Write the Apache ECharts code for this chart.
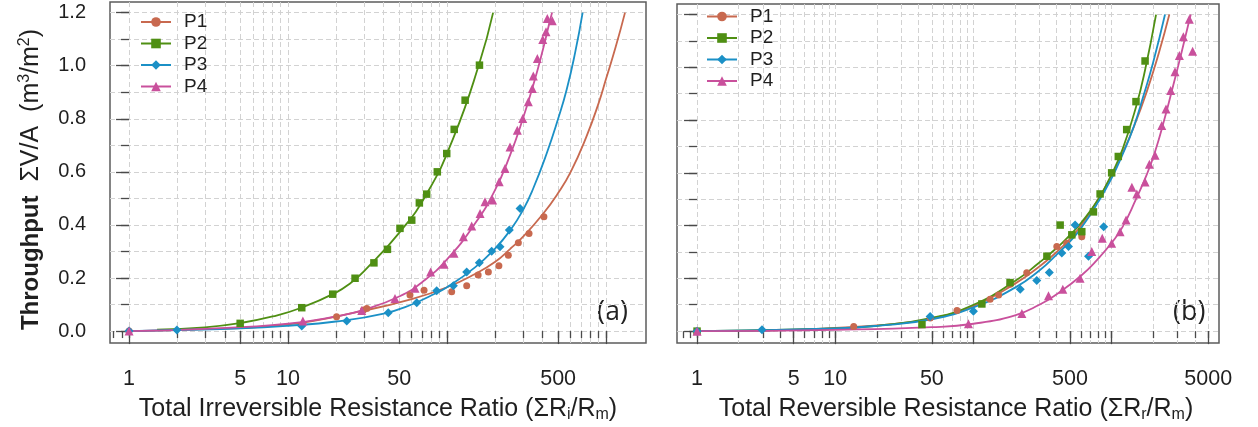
<!DOCTYPE html>
<html>
<head>
<meta charset="utf-8">
<script src="https://cdn.jsdelivr.net/npm/echarts@6/dist/echarts.min.js"></script>
<style>
  html, body { margin: 0; padding: 0; background: #ffffff; }
  #chart { width: 1258px; height: 427px; }
</style>
</head>
<body>
<div id="chart"></div>
<script>
// ---- series identity ----
const seriesNames = ['P1', 'P2', 'P3', 'P4'];
const seriesColors = ['#C8694F', '#4F8F13', '#1B90C6', '#C9509C'];
const seriesSymbols = ['circle', 'rect', 'diamond', 'triangle'];
const symbolSizes = [7, 7.5, 9, 9];

// ---- (a) irreversible resistance ratio: measured throughput [ratio, m3/m2] ----
const irrevP1 = [[1,0],[20.2,0.054],[29.8,0.079],[31.3,0.085],[58.5,0.136],[71.7,0.154],[107,0.148],[133,0.171],[157,0.211],[182,0.223],[212,0.246],[243,0.286],[281,0.333],[328,0.368],[407,0.431]];
const irrevP2 = [[5,0.029],[12.2,0.088],[19.1,0.139],[26.4,0.199],[34.7,0.257],[42.2,0.308],[50.6,0.387],[60,0.418],[67,0.483],[74.5,0.516],[86.9,0.600],[99.6,0.669],[111,0.760],[130,0.870],[160,1.002]];
const irrevP3 = [[1,0],[2,0.004],[12.2,0.019],[23.4,0.038],[42.7,0.069],[64.5,0.107],[86.1,0.152],[109.7,0.171],[133,0.223],[159.7,0.257],[191,0.301],[215.4,0.318],[246.6,0.381],[288,0.462]];
const irrevP4 = [[1,0],[12.4,0.038],[29.1,0.077],[47.1,0.123],[62.9,0.161],[78.9,0.223],[95.8,0.252],[110.7,0.293],[126.7,0.355],[143,0.396],[161.4,0.443],[173.4,0.487],[193.6,0.494],[213,0.563],[231.6,0.613],[249,0.694],[276.8,0.757],[299.5,0.801],[324.6,0.864],[344,0.914],[349,0.961],[370,1.027],[400,1.099],[419.6,1.128],[427.6,1.178],[459,1.169]];

// ---- (a) fitted model curves ----
const irrevFitP1 = [[1,0],[3,0.007],[10,0.025],[30,0.077],[60,0.12],[100,0.165],[150,0.215],[200,0.26],[250,0.31],[300,0.355],[400,0.44],[500,0.52],[600,0.6],[750,0.73],[900,0.86],[1000,0.95],[1150,1.07],[1317,1.2]];
const irrevFitP2 = [[1.5,0.005],[3,0.014],[5,0.03],[8,0.055],[12,0.087],[20,0.145],[25,0.183],[30,0.225],[50,0.37],[75,0.52],[110,0.73],[160,1.01],[195,1.2]];
const irrevFitP3 = [[1,0],[2,0.004],[5,0.01],[10,0.02],[20,0.036],[40,0.066],[60,0.1],[80,0.135],[100,0.165],[150,0.24],[200,0.31],[250,0.38],[300,0.455],[350,0.54],[424,0.67],[500,0.8],[566,0.91],[640,1.05],[713,1.2]];
const irrevFitP4 = [[1,0],[3,0.008],[10,0.028],[20,0.055],[30,0.08],[50,0.13],[70,0.185],[100,0.27],[150,0.405],[200,0.53],[250,0.665],[300,0.8],[350,0.93],[400,1.058],[440,1.16],[458,1.2]];

// ---- (b) reversible resistance ratio: measured throughput ----
const revP1 = [[1,0],[13.6,0.018],[48.6,0.05],[76,0.078],[132,0.121],[152,0.137],[184,0.178],[243,0.221],[401,0.321],[473,0.333],[608,0.358]];
const revP2 = [[1,0],[42.4,0.025],[115,0.103],[184,0.184],[340,0.284],[424,0.402],[515,0.365],[608,0.377],[738,0.452],[825,0.52],[1000,0.6],[1117,0.662],[1285,0.764],[1500,0.87],[1745,1.024]];
const revP3 = [[1,0],[2.95,0.005],[48.6,0.055],[100,0.075],[218,0.159],[287,0.192],[354,0.222],[436,0.296],[487,0.321],[544,0.402],[680,0.284],[876,0.396]];
const revP4 = [[1,0],[92,0.028],[224,0.067],[349,0.134],[443,0.159],[591,0.2],[718,0.302],[855,0.352],[1000,0.333],[1150,0.377],[1271,0.421],[1400,0.545],[1520,0.52],[1745,0.565],[1875,0.633],[2060,0.667],[2303,0.779],[2473,0.842],[2674,0.912],[2874,0.983],[3090,1.045],[3302,1.116],[3648,1.182],[3855,1.061]];

// ---- (b) fitted model curves ----
const revFitP1 = [[1,0],[5,0.005],[10,0.012],[20,0.022],[30,0.03],[50,0.048],[100,0.095],[200,0.18],[300,0.245],[400,0.3],[500,0.35],[600,0.4],[800,0.5],[1000,0.59],[1200,0.675],[1436,0.77],[1795,0.908],[2200,1.056],[2614,1.2]];
const revFitP2 = [[1,0],[10,0.01],[20,0.02],[50,0.05],[100,0.1],[200,0.19],[300,0.26],[400,0.315],[500,0.365],[600,0.41],[800,0.5],[1000,0.595],[1200,0.69],[1500,0.85],[1745,0.99],[2095,1.2]];
const revFitP3 = [[1,0],[10,0.01],[20,0.02],[50,0.045],[100,0.09],[200,0.165],[300,0.23],[400,0.29],[500,0.34],[600,0.39],[800,0.49],[1000,0.58],[1200,0.67],[1450,0.777],[1694,0.89],[2000,1.02],[2432,1.2]];
const revFitP4 = [[1,0],[10,0.005],[50,0.015],[100,0.028],[200,0.06],[300,0.1],[400,0.14],[600,0.21],[800,0.275],[1000,0.335],[1200,0.395],[1500,0.5],[1800,0.595],[2060,0.68],[2400,0.8],[2800,0.935],[3200,1.055],[3733,1.2]];

// ---- axis ticks ----
const irrevMajorTicks = [1, 5, 10, 50, 100, 500, 1000];
const irrevLabels = [1, 5, 10, 50, 500];
const irrevMinorTicks = [0.8, 0.9, 1, 2, 3, 4, 5, 6, 7, 8, 9, 10, 20, 30, 40, 50, 60, 70, 80, 90, 100, 200, 300, 400, 500, 600, 700, 800, 900, 1000];
const irrevGridTicks = [1, 2, 3, 4, 5, 6, 7, 8, 9, 10, 20, 30, 40, 50, 60, 70, 80, 90, 100, 200, 300, 400, 500, 600, 700, 800, 900, 1000];
const revMajorTicks = [1, 5, 10, 50, 100, 500, 1000, 5000];
const revLabels = [1, 5, 10, 50, 500, 5000];
const revMinorTicks = [0.8, 0.9, 1, 2, 3, 4, 5, 6, 7, 8, 9, 10, 20, 30, 40, 50, 60, 70, 80, 90, 100, 200, 300, 400, 500, 600, 700, 800, 900, 1000, 2000, 3000, 4000, 5000];
const revGridTicks = [1, 2, 3, 4, 5, 6, 7, 8, 9, 10, 20, 30, 40, 50, 60, 70, 80, 90, 100, 200, 300, 400, 500, 600, 700, 800, 900, 1000, 2000, 3000, 4000, 5000];
const yMajorTicks = [0, 0.2, 0.4, 0.6, 0.8, 1.0, 1.2];
const yMinorTicks = [0, 0.1, 0.2, 0.3, 0.4, 0.5, 0.6, 0.7, 0.8, 0.9, 1.0, 1.1, 1.2];

const FONT = '"Liberation Sans", Arial, sans-serif';
const TEXT = '#1f1f1f';
const TICK = '#4a4a4a';
const GRIDLINE = { color: '#d2d2d2', width: 1, type: [5, 3] };
const L = Math.log10;

const Y_MIN = -0.045, Y_MAX = 1.24;

// x axes in log10 space: one for long ticks + labels, one for short ticks, one for the dashed grid
function xAxesFor(gridIndex, lo, hi, major, labels, minor, gridVals, title, shift) {
  const base = { type: 'value', gridIndex, min: L(lo), max: L(hi), position: 'bottom',
                 axisLine: { show: false }, splitLine: { show: false } };
  return [
    Object.assign({}, base, {
      axisTick: { show: true, length: 13, customValues: major.map(L), lineStyle: { color: TICK, width: 1.3 } },
      axisLabel: { show: true, customValues: labels.map(L), margin: 25, fontSize: 21.5, fontFamily: FONT, color: TEXT,
                   formatter: v => String(Math.round(Math.pow(10, v))) },
      name: title, nameLocation: 'middle', nameGap: 52, nameMoveOverlap: false,
      nameTextStyle: { fontSize: 25, fontFamily: FONT, color: TEXT, lineHeight: 28, padding: [0, 0, 0, shift],
                       rich: { s: { fontSize: 16, fontFamily: FONT, color: TEXT, verticalAlign: 'bottom', lineHeight: 15 } } }
    }),
    Object.assign({}, base, {
      axisTick: { show: true, length: 7, customValues: minor.map(L), lineStyle: { color: TICK, width: 1.3 } },
      axisLabel: { show: false }
    }),
    Object.assign({}, base, {
      axisTick: { show: false, customValues: gridVals.map(L) },
      axisLabel: { show: false },
      splitLine: { show: true, lineStyle: GRIDLINE }
    })
  ];
}

function yAxesFor(gridIndex, withLabels) {
  const base = { type: 'value', gridIndex, min: Y_MIN, max: Y_MAX, position: 'left', axisLine: { show: false } };
  const major = Object.assign({}, base, {
    axisTick: { show: true, length: 13, customValues: yMajorTicks, lineStyle: { color: TICK, width: 1.3 } },
    axisLabel: { show: withLabels, customValues: yMajorTicks, margin: 24, fontSize: 20, fontFamily: FONT, color: TEXT,
                 formatter: v => v.toFixed(1) },
    splitLine: { show: false }
  });
  if (withLabels) {
    Object.assign(major, {
      name: '{b|Throughput}  ΣV/A  (m{sup|3}/m{sup|2})', nameLocation: 'middle', nameGap: 65, nameMoveOverlap: false,
      nameTextStyle: { fontSize: 25, fontFamily: FONT, color: TEXT, lineHeight: 28, padding: [0, 14, 0, 0],
                       rich: { b: { fontSize: 24, fontWeight: 'bold', fontFamily: FONT, color: TEXT, lineHeight: 28 },
                               sup: { fontSize: 16, fontFamily: FONT, color: TEXT, verticalAlign: 'top', lineHeight: 14 } } }
    });
  }
  const minor = Object.assign({}, base, {
    axisTick: { show: true, length: 8, customValues: yMinorTicks, lineStyle: { color: TICK, width: 1.3 } },
    axisLabel: { show: false },
    splitLine: { show: true, lineStyle: GRIDLINE }
  });
  return [major, minor];
}

const toLog = arr => arr.map(p => [L(p[0]), p[1]]);

const panels = [
  { fits: [irrevFitP1, irrevFitP2, irrevFitP3, irrevFitP4], pts: [irrevP1, irrevP2, irrevP3, irrevP4] },
  { fits: [revFitP1, revFitP2, revFitP3, revFitP4], pts: [revP1, revP2, revP3, revP4] }
];

const series = [];
panels.forEach((panel, p) => {
  panel.fits.forEach((fit, i) => {
    series.push({
      type: 'line', name: seriesNames[i], xAxisIndex: p * 3, yAxisIndex: p * 2,
      data: toLog(fit), smooth: 0.5,
      symbol: seriesSymbols[i], symbolSize: symbolSizes[i], showSymbol: false,
      lineStyle: { color: seriesColors[i], width: 1.8 }, itemStyle: { color: seriesColors[i] },
      silent: true, z: 3
    });
  });
  panel.pts.forEach((pts, i) => {
    series.push({
      type: 'scatter', name: seriesNames[i], xAxisIndex: p * 3, yAxisIndex: p * 2,
      data: toLog(pts), symbol: seriesSymbols[i], symbolSize: symbolSizes[i],
      itemStyle: { color: seriesColors[i], opacity: 1 }, silent: true, z: 4
    });
  });
});

const legendBase = {
  orient: 'vertical', padding: 0, itemWidth: 30, itemHeight: 12, itemGap: 2.5,
  data: seriesNames, selectedMode: false,
  textStyle: { fontSize: 19, fontFamily: FONT, color: TEXT, padding: [0, 0, 0, 8] }
};

const chart = echarts.init(document.getElementById('chart'), null, { renderer: 'canvas' });
chart.setOption({
  animation: false,
  backgroundColor: '#ffffff',
  grid: [
    { left: 110, top: 2, width: 536, height: 341, show: true, borderColor: '#5c5c5c', borderWidth: 1.5, backgroundColor: 'transparent', outerBoundsMode: 'none' },
    { left: 677, top: 4, width: 542, height: 339, show: true, borderColor: '#5c5c5c', borderWidth: 1.5, backgroundColor: 'transparent', outerBoundsMode: 'none' }
  ],
  xAxis: [
    ...xAxesFor(0, 0.759, 1785, irrevMajorTicks, irrevLabels, irrevMinorTicks, irrevGridTicks,
                'Total Irreversible Resistance Ratio (ΣR{s|i}/R{s|m})', 0),
    ...xAxesFor(1, 0.716, 5980, revMajorTicks, revLabels, revMinorTicks, revGridTicks,
                'Total Reversible Resistance Ratio (ΣR{s|r}/R{s|m})', 16)
  ],
  yAxis: [...yAxesFor(0, true), ...yAxesFor(1, false)],
  legend: [
    Object.assign({}, legendBase, { left: 140, top: 12.5 }),
    Object.assign({}, legendBase, { left: 706, top: 7 })
  ],
  graphic: [
    { type: 'text', left: 597, top: 299, style: { text: '(a)', fontSize: 27, fontFamily: '"Open Sans", sans-serif', fill: '#222' } },
    { type: 'text', left: 1173, top: 299, style: { text: '(b)', fontSize: 27, fontFamily: '"Open Sans", sans-serif', fill: '#222' } }
  ],
  series
});
</script>
</body>
</html>
